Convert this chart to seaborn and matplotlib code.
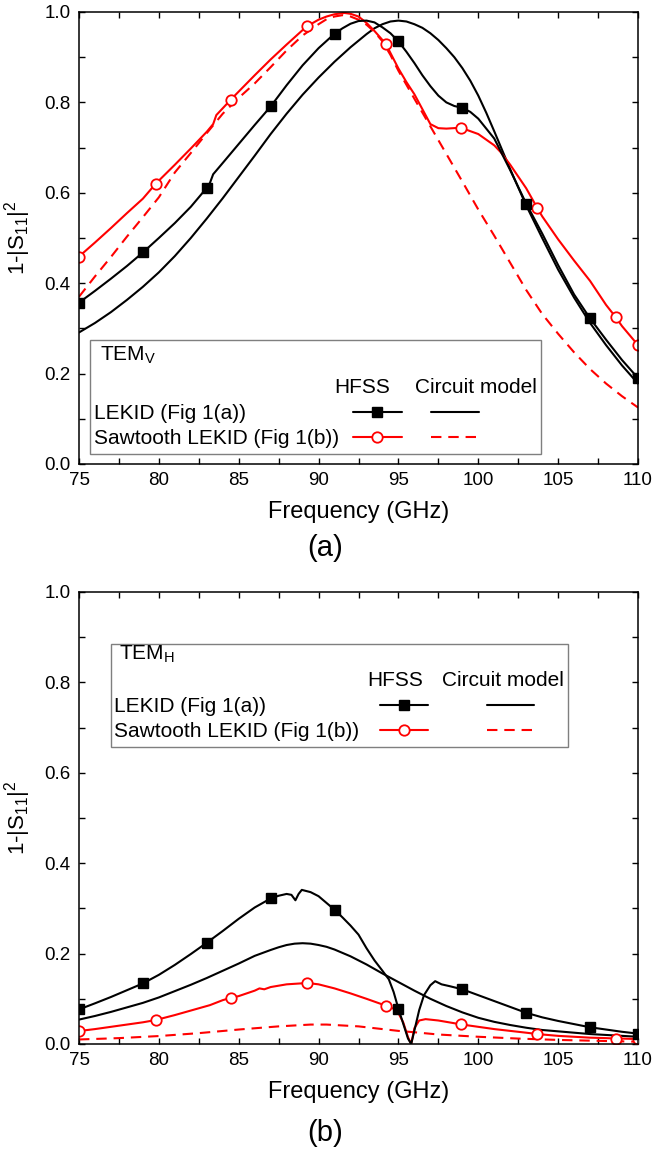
import numpy as np
import pandas as pd
import matplotlib
matplotlib.use("Agg")
import matplotlib.pyplot as plt
import seaborn as sns
from matplotlib.lines import Line2D
from matplotlib.patches import Rectangle
from matplotlib.legend import Legend
from matplotlib.ticker import MultipleLocator, FormatStrFormatter

sns.set_theme(style="ticks")
plt.rcParams["font.family"] = ["Liberation Sans", "DejaVu Sans"]
plt.rcParams["mathtext.default"] = "regular"
plt.rcParams["text.color"] = "black"
plt.rcParams["axes.labelcolor"] = "black"
plt.rcParams["xtick.color"] = "black"
plt.rcParams["ytick.color"] = "black"
plt.rcParams["lines.solid_joinstyle"] = "round"
plt.rcParams["lines.dash_joinstyle"] = "round"

RED = "#ff0000"
BLACK = "#000000"

# ---------------- panel (a): TEM_V ----------------
a_lekid_hfss_f = [75, 76, 77, 78, 79, 80, 81, 82, 83, 83.2, 83.4, 84, 85, 86, 87, 88, 89, 90, 91, 91.5,
                  92, 92.5, 93, 93.5, 94, 94.5, 95, 95.5, 96, 96.5, 97, 97.5, 98, 98.5, 99, 99.5, 100,
                  101, 102, 103, 104, 105, 106, 107, 108, 109, 110]
a_lekid_hfss_v = [0.357, 0.383, 0.41, 0.438, 0.468, 0.50, 0.533, 0.569, 0.611, 0.622, 0.641, 0.666, 0.708,
                  0.75, 0.791, 0.838, 0.882, 0.92, 0.952, 0.964, 0.974, 0.98, 0.981, 0.977, 0.966,
                  0.953, 0.935, 0.912, 0.887, 0.86, 0.836, 0.815, 0.80, 0.792, 0.788, 0.779, 0.764,
                  0.72, 0.65, 0.576, 0.51, 0.44, 0.375, 0.322, 0.275, 0.23, 0.19]

a_lekid_circ_f = [75, 76, 77, 78, 79, 80, 81, 82, 83, 84, 85, 86, 87, 88, 89, 90, 91, 92, 93, 93.5, 94,
                  94.5, 95, 95.5, 96, 96.5, 97, 97.5, 98, 98.5, 99, 99.5, 100, 100.5, 101, 101.5, 102,
                  103, 104, 105, 106, 107, 108, 109, 110]
a_lekid_circ_v = [0.291, 0.312, 0.336, 0.363, 0.392, 0.424, 0.46, 0.5, 0.543, 0.588, 0.635, 0.682, 0.73,
                  0.775, 0.817, 0.855, 0.89, 0.922, 0.951, 0.964, 0.973, 0.979, 0.981, 0.979, 0.973,
                  0.965, 0.953, 0.938, 0.92, 0.9, 0.876, 0.848, 0.815, 0.777, 0.736, 0.694, 0.652,
                  0.572, 0.5, 0.43, 0.368, 0.312, 0.263, 0.218, 0.178]

a_saw_hfss_f = [75, 76, 77, 78, 79, 79.8, 81, 82, 83, 83.4, 83.6, 84, 84.5, 85, 86, 87, 88, 89, 89.3, 90,
                90.5, 91, 91.6, 92, 92.5, 93, 93.5, 94.2, 95, 95.5, 96, 96.5, 97, 97.5, 98, 98.9, 100,
                101, 101.4, 102, 103, 103.7, 104, 105, 106, 107, 108, 108.6, 109, 110]
a_saw_hfss_v = [0.459, 0.49, 0.522, 0.555, 0.587, 0.62, 0.662, 0.698, 0.735, 0.752, 0.772, 0.787, 0.806,
                0.824, 0.86, 0.895, 0.928, 0.96, 0.969, 0.983, 0.99, 0.995, 0.998, 0.996, 0.99, 0.976,
                0.958, 0.93, 0.875, 0.845, 0.818, 0.785, 0.752, 0.743, 0.742, 0.744, 0.73, 0.705,
                0.69, 0.662, 0.61, 0.566, 0.548, 0.497, 0.45, 0.405, 0.352, 0.325, 0.305, 0.263]

a_saw_circ_f = [75, 76, 77, 78, 79, 80, 81, 82, 83, 84, 85, 86, 87, 88, 89, 90, 90.5, 91, 91.5, 92,
                92.5, 93, 93.5, 94, 94.5, 95, 96, 97, 98, 99, 100, 101, 102, 103, 104, 105, 106, 107,
                108, 109, 110]
a_saw_circ_v = [0.37, 0.415, 0.458, 0.503, 0.546, 0.59, 0.645, 0.688, 0.732, 0.775, 0.81, 0.842, 0.878,
                0.915, 0.948, 0.973, 0.984, 0.99, 0.993, 0.99, 0.983, 0.972, 0.956, 0.935, 0.905,
                0.87, 0.808, 0.747, 0.686, 0.625, 0.563, 0.505, 0.445, 0.385, 0.332, 0.288, 0.247,
                0.21, 0.178, 0.15, 0.125]

# ---------------- panel (b): TEM_H ----------------
b_lekid_hfss_f = [75, 76, 77, 78, 79, 80, 81, 82, 83, 84, 85, 86, 87, 87.5, 88, 88.3, 88.55, 88.75, 88.95,
                  89.5, 90, 91, 91.5, 92, 92.5, 93, 93.5, 94, 94.4, 94.7, 95, 95.3, 95.6, 95.8, 96, 96.3,
                  96.6, 97, 97.3, 97.7, 98.2, 99, 100, 101, 102, 103, 104, 105, 106, 107, 108, 109, 110]
b_lekid_hfss_v = [0.0765, 0.09, 0.104, 0.119, 0.134, 0.153, 0.175, 0.199, 0.224, 0.25, 0.277, 0.302,
                  0.322, 0.328, 0.332, 0.33, 0.318, 0.332, 0.341, 0.336, 0.327, 0.297, 0.28, 0.262,
                  0.242, 0.212, 0.185, 0.162, 0.143, 0.115, 0.078, 0.045, 0.012, 0.0, 0.03, 0.075,
                  0.108, 0.13, 0.139, 0.132, 0.128, 0.121, 0.108, 0.095, 0.082, 0.069, 0.059, 0.051,
                  0.044, 0.037, 0.032, 0.027, 0.023]

b_lekid_circ_f = [75, 76, 77, 78, 79, 80, 81, 82, 83, 84, 85, 86, 87, 87.5, 88, 88.5, 89, 89.5, 90, 90.5,
                  91, 92, 93, 94, 95, 96, 97, 98, 99, 100, 101, 102, 103, 104, 105, 106, 107, 108, 109, 110]
b_lekid_circ_v = [0.054, 0.062, 0.071, 0.081, 0.091, 0.103, 0.117, 0.131, 0.146, 0.162, 0.178, 0.195,
                  0.208, 0.214, 0.219, 0.222, 0.223, 0.222, 0.219, 0.215, 0.209, 0.194, 0.176, 0.156,
                  0.137, 0.118, 0.1, 0.084, 0.07, 0.058, 0.049, 0.042, 0.036, 0.031, 0.028, 0.025,
                  0.022, 0.02, 0.018, 0.016]

b_saw_hfss_f = [75, 76, 77, 78, 79, 79.8, 81, 82, 82.8, 83.2, 84, 84.5, 85, 86, 86.3, 86.6, 87, 88, 89.3,
                90, 91, 92, 93, 94.2, 94.7, 95, 95.3, 95.6, 95.8, 96, 96.3, 96.7, 97.5, 98.9, 100, 101,
                102, 103, 103.7, 105, 106, 107, 108, 108.6, 109, 110]
b_saw_hfss_v = [0.0287, 0.033, 0.038, 0.043, 0.048, 0.053, 0.064, 0.074, 0.082, 0.086, 0.097, 0.102,
                0.106, 0.118, 0.123, 0.121, 0.126, 0.132, 0.135, 0.132, 0.123, 0.112, 0.1, 0.085, 0.078,
                0.068, 0.048, 0.015, 0.0, 0.035, 0.052, 0.055, 0.052, 0.0435, 0.038, 0.033, 0.029,
                0.025, 0.022, 0.018, 0.016, 0.014, 0.013, 0.012, 0.012, 0.011]

b_saw_circ_f = [75, 77.5, 80, 82.5, 85, 87.5, 88.5, 89.5, 90.5, 91.5, 92.5, 94, 95, 96, 97.5, 100, 102.5,
                105, 107.5, 110]
b_saw_circ_v = [0.01, 0.013, 0.0176, 0.024, 0.032, 0.039, 0.041, 0.043, 0.043, 0.041, 0.039, 0.033,
                0.029, 0.026, 0.021, 0.016, 0.012, 0.009, 0.007, 0.005]

# marker positions on the HFSS curves
lekid_marker_f = [75, 79, 83, 87, 91, 95, 99, 103, 107, 110]
saw_marker_f = [75, 79.8, 84.5, 89.3, 94.2, 98.9, 103.7, 108.6, 110]

# text
row_labels = ["LEKID (Fig 1(a))", "Sawtooth LEKID (Fig 1(b))"]
col_headers = ["HFSS", "Circuit model"]
x_label = "Frequency (GHz)"
y_label = "1-|S$_{11}$|$^{2}$"

# ---------------- figure ----------------
W, H = 654, 1163
fig = plt.figure(figsize=(W / 100, H / 100), dpi=100)


def axes_px(left, top, right, bottom):
    return fig.add_axes([left / W, 1 - bottom / H, (right - left) / W, (bottom - top) / H])


ax_a = axes_px(79, 12, 638, 464)
ax_b = axes_px(79, 592, 638, 1044)

LW = 1.5
DASH = (0, (5, 3.3))
sq_kw = dict(marker="s", markersize=6.5, markerfacecolor=BLACK, markeredgecolor=BLACK, markeredgewidth=1)
ci_kw = dict(marker="o", markersize=7.5, markerfacecolor="white", markeredgecolor=RED, markeredgewidth=1.3)


def draw_curve(ax, f, v, color, style, marker_f=None, mkw=None):
    df = pd.DataFrame({"f": f, "v": v})
    kws = dict(color=color, linewidth=LW, linestyle=style)
    if marker_f is not None:
        idx = [int(i) for i in np.nonzero(np.isin(np.round(df["f"].values, 3), np.round(marker_f, 3)))[0]]
        kws.update(mkw)
        kws["markevery"] = idx
    sns.lineplot(data=df, x="f", y="v", ax=ax, estimator=None, sort=False, **kws)


draw_curve(ax_a, a_lekid_circ_f, a_lekid_circ_v, BLACK, "-")
draw_curve(ax_a, a_saw_circ_f, a_saw_circ_v, RED, DASH)
draw_curve(ax_a, a_saw_hfss_f, a_saw_hfss_v, RED, "-", saw_marker_f, ci_kw)
draw_curve(ax_a, a_lekid_hfss_f, a_lekid_hfss_v, BLACK, "-", lekid_marker_f, sq_kw)

draw_curve(ax_b, b_lekid_circ_f, b_lekid_circ_v, BLACK, "-")
draw_curve(ax_b, b_saw_circ_f, b_saw_circ_v, RED, DASH)
draw_curve(ax_b, b_saw_hfss_f, b_saw_hfss_v, RED, "-", saw_marker_f, ci_kw)
draw_curve(ax_b, b_lekid_hfss_f, b_lekid_hfss_v, BLACK, "-", lekid_marker_f, sq_kw)

for ax in (ax_a, ax_b):
    ax.set_xlim(75, 110)
    ax.set_ylim(0, 1)
    ax.xaxis.set_major_locator(MultipleLocator(5))
    ax.xaxis.set_minor_locator(MultipleLocator(2.5))
    ax.yaxis.set_major_locator(MultipleLocator(0.2))
    ax.yaxis.set_minor_locator(MultipleLocator(0.1))
    ax.yaxis.set_major_formatter(FormatStrFormatter("%.1f"))
    ax.tick_params(which="both", direction="in", top=True, right=True, length=4, width=1,
                   color="black", labelsize=13.5, pad=6)
    for s in ax.spines.values():
        s.set_linewidth(1.1)
        s.set_color("black")
    ax.set_xlabel(x_label, fontsize=17)
    ax.set_ylabel(y_label, fontsize=16)
    ax.yaxis.set_label_coords(-0.082, 0.5)
    ax.xaxis.set_label_coords(0.5, -0.082)

FS = 15
PX_EM = FS * 100 / 72


def add_key(ax, box, tem, tem_xy, hdr_y, hdr_x, rows_y, label_x, hfss_span, circ_span):
    ax.add_patch(Rectangle((box[0], box[1]), box[2] - box[0], box[3] - box[1], transform=ax.transAxes,
                           facecolor="white", edgecolor="#7f7f7f", linewidth=1.0, zorder=4))
    ax.text(tem_xy[0], tem_xy[1], tem, transform=ax.transAxes, ha="left", va="center",
            fontsize=FS, zorder=6)
    for hx, ht in zip(hdr_x, col_headers):
        ax.text(hx, hdr_y, ht, transform=ax.transAxes, ha="center", va="center", fontsize=FS, zorder=6)
    ax_w_px = ax.get_position().width * W
    hl = (hfss_span[1] - hfss_span[0]) * ax_w_px / PX_EM
    gap = (circ_span[0] - hfss_span[1]) * ax_w_px / PX_EM
    hfss_handles = [Line2D([], [], color=BLACK, linewidth=LW, **sq_kw),
                    Line2D([], [], color=RED, linewidth=LW, **ci_kw)]
    circ_handles = [Line2D([], [], color=BLACK, linewidth=LW, linestyle="-"),
                    Line2D([], [], color=RED, linewidth=LW, linestyle=DASH)]
    for y, lab, h1, h2 in zip(rows_y, row_labels, hfss_handles, circ_handles):
        ax.text(label_x, y, lab, transform=ax.transAxes, ha="left", va="center", fontsize=FS, zorder=6)
        leg = Legend(ax, [h1, h2], ["", ""], ncol=2, loc="center left",
                     bbox_to_anchor=(hfss_span[0], y), bbox_transform=ax.transAxes,
                     frameon=False, handlelength=hl, handletextpad=0, columnspacing=gap,
                     borderpad=0, borderaxespad=0, fontsize=FS, numpoints=1)
        leg.set_zorder(6)
        ax.add_artist(leg)


add_key(ax_a, (0.02, 0.022, 0.826, 0.275), "TEM$_V$", (0.037, 0.24), 0.17, (0.506, 0.71),
        (0.112, 0.056), 0.027, (0.49, 0.577), (0.629, 0.714))
add_key(ax_b, (0.057, 0.657, 0.874, 0.885), "TEM$_H$", (0.072, 0.862), 0.805, (0.565, 0.758),
        (0.746, 0.691), 0.063, (0.539, 0.6246), (0.729, 0.816))

fig.text(325 / W, 1 - 548 / H, "(a)", ha="center", va="center", fontsize=21)
fig.text(325 / W, 1 - 1133 / H, "(b)", ha="center", va="center", fontsize=21)

fig.savefig("out.png", dpi=100)
